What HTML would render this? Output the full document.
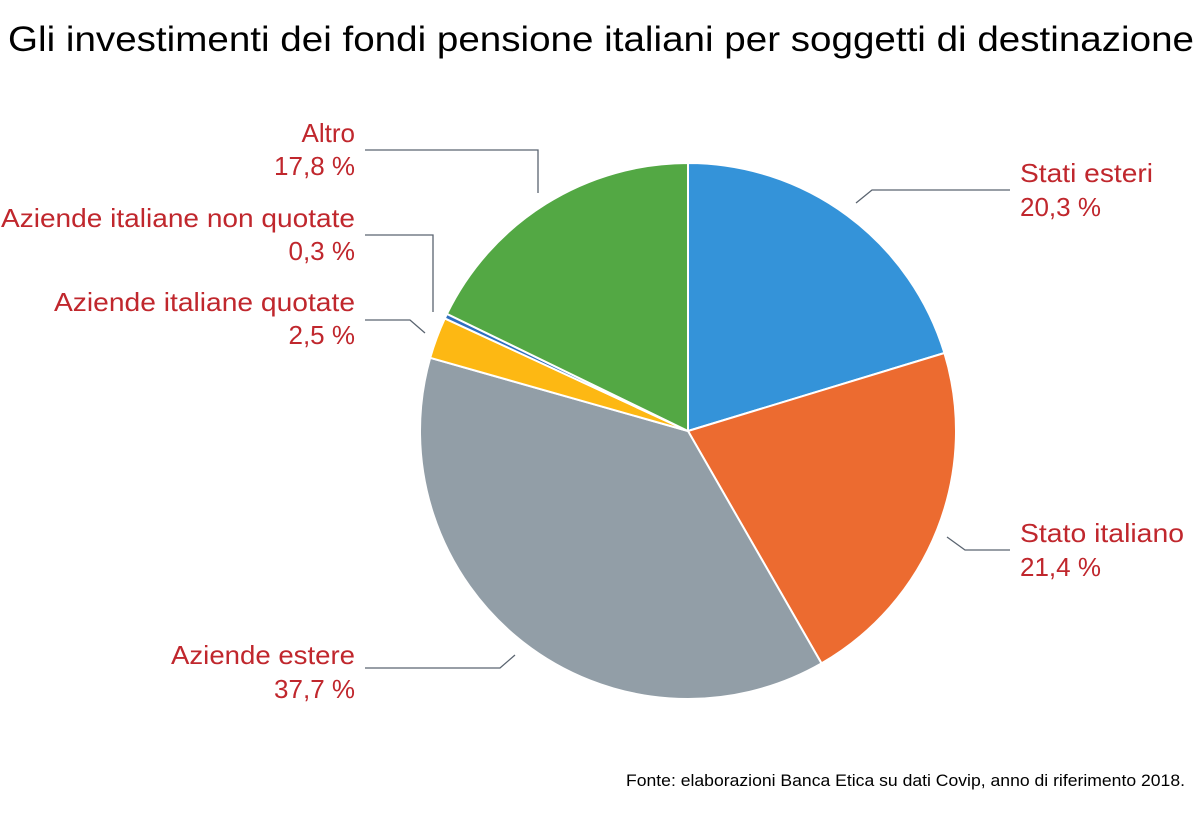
<!DOCTYPE html>
<html><head><meta charset="utf-8"><style>
body{margin:0;background:#fff;width:1200px;height:824px;overflow:hidden;font-family:"Liberation Sans",sans-serif}
</style></head><body>
<svg id="s" width="1200" height="824" xmlns="http://www.w3.org/2000/svg">
<text x="601" y="51" text-anchor="middle" font-size="35" fill="#000" textLength="1186" lengthAdjust="spacingAndGlyphs">Gli investimenti dei fondi pensione italiani per soggetti di destinazione</text>
<g id="pie"></g>
<g stroke="#5a6470" stroke-width="1.3" fill="none">
<polyline points="856,203 872,190 1010,190"/>
<polyline points="947,537 965,550 1010,550"/>
<polyline points="515,655 500,668 365,668"/>
<polyline points="425,333 410,320 365,320"/>
<polyline points="433,312 433,235 365,235"/>
<polyline points="538,193 538,150 365,150"/>
</g>
<g font-size="26" fill="#c0272d">
<text x="1020" y="182" textLength="133" lengthAdjust="spacingAndGlyphs">Stati esteri</text><text x="1020" y="216">20,3 %</text>
<text x="1020" y="542" textLength="164" lengthAdjust="spacingAndGlyphs">Stato italiano</text><text x="1020" y="576">21,4 %</text>
<g text-anchor="end">
<text x="355" y="142">Altro</text><text x="355" y="175">17,8 %</text>
<text x="355" y="227" textLength="354" lengthAdjust="spacingAndGlyphs">Aziende italiane non quotate</text><text x="355" y="260">0,3 %</text>
<text x="355" y="311" textLength="301" lengthAdjust="spacingAndGlyphs">Aziende italiane quotate</text><text x="355" y="344">2,5 %</text>
<text x="355" y="664" textLength="184" lengthAdjust="spacingAndGlyphs">Aziende estere</text><text x="355" y="698">37,7 %</text>
</g></g>
<text x="1185" y="786" text-anchor="end" font-size="17" fill="#000" textLength="559" lengthAdjust="spacingAndGlyphs">Fonte: elaborazioni Banca Etica su dati Covip, anno di riferimento 2018.</text>
</svg>
<script>
var d=[[20.3,"#3493d9"],[21.4,"#ec6b30"],[37.7,"#929ea7"],[2.5,"#fdb813"],[0.3,"#2f6fc0"],[17.8,"#53a844"]];
var cx=688,cy=431,r=268,a=0,h="";
d.forEach(function(e){var a1=a+e[0]/100*2*Math.PI;
var x0=cx+r*Math.sin(a),y0=cy-r*Math.cos(a),x1=cx+r*Math.sin(a1),y1=cy-r*Math.cos(a1);
h+='<path d="M'+cx+','+cy+'L'+x0+','+y0+'A'+r+','+r+' 0 '+(a1-a>Math.PI?1:0)+' 1 '+x1+','+y1+'Z" fill="'+e[1]+'" stroke="#fff" stroke-width="2"/>';a=a1;});
document.getElementById("pie").innerHTML=h;
</script>
</body></html>
